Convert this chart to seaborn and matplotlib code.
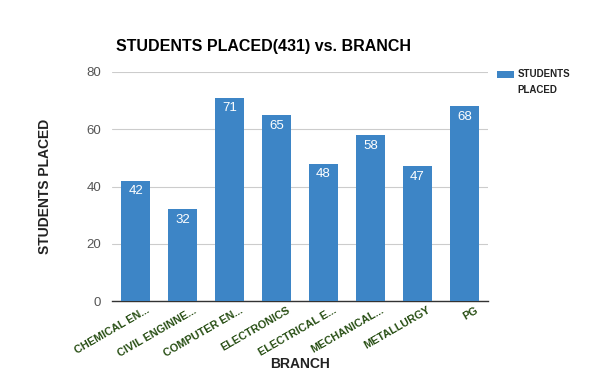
import matplotlib
matplotlib.use("Agg")
import matplotlib.pyplot as plt
import matplotlib.transforms as mtransforms
import seaborn as sns
import pandas as pd

branches = ["CHEMICAL EN...", "CIVIL ENGINNE...", "COMPUTER EN...", "ELECTRONICS",
            "ELECTRICAL E...", "MECHANICAL...", "METALLURGY", "PG"]
placed = [42, 32, 71, 65, 48, 58, 47, 68]
yticks = [0, 20, 40, 60, 80]

df = pd.DataFrame({"branch": branches, "placed": placed})

sns.set_theme(style="white")
plt.rcParams['font.family'] = ['Liberation Sans', 'DejaVu Sans']

fig = plt.figure(figsize=(6.03, 3.73), dpi=100)
ax = fig.add_axes([0.186, 0.193, 0.623, 0.614])
bar_color = "#3d85c6"
sns.barplot(data=df, x="branch", y="placed", color=bar_color, width=0.62,
            saturation=1, ax=ax, zorder=3, label="STUDENTS\nPLACED", edgecolor="none")
ax.set_ylim(0, 80)
ax.set_yticks(yticks)
ax.set_yticklabels([str(v) for v in yticks], fontsize=9.5, color="#555555")
ax.set_xlim(-0.5, len(branches) - 0.5)
ax.grid(axis="y", color="#cccccc", linewidth=0.8, zorder=0)
for s in ["top", "right", "left"]:
    ax.spines[s].set_visible(False)
ax.spines["bottom"].set_color("#333333")
ax.spines["bottom"].set_linewidth(1)
ax.tick_params(axis="y", length=0, pad=8)
ax.tick_params(axis="x", length=0, pad=3)
ax.set_xticks(range(len(branches)))
ax.set_xticklabels(branches, rotation=30, ha="right", rotation_mode="anchor",
                   fontsize=7.8, fontweight="bold", color="#274e13")
offset = mtransforms.ScaledTranslation(10 / 100, 0, fig.dpi_scale_trans)
for lab in ax.get_xticklabels():
    lab.set_transform(lab.get_transform() + offset)
for i, v in enumerate(placed):
    ax.text(i, v - 1.6, str(v), ha="center", va="top", color="white", fontsize=9.5)
ax.set_xlabel("BRANCH", fontsize=10, fontweight="bold", color="#222222", labelpad=0)
ax.xaxis.set_label_coords(0.5, -0.245)
ax.set_ylabel("STUDENTS PLACED", fontsize=10, fontweight="bold", color="#222222")
ax.yaxis.set_label_coords(-0.16, 0.5)
fig.text(0.192, 0.862, "STUDENTS PLACED(431) vs. BRANCH", fontsize=11.5, fontweight="bold",
         color="#000000", ha="left")
leg = ax.legend(loc="upper left", bbox_to_anchor=(1.01, 1.04), frameon=False,
                handlelength=1.75, handleheight=0.65, handletextpad=0.3, borderaxespad=0.2,
                prop={"weight": "bold", "size": 7})
for t in leg.get_texts():
    t.set_color("#222222")
    t.set_linespacing(1.75)
h = leg.legend_handles[0]
h.set_y(h.get_y() + 5.5)
fig.savefig("out.png", dpi=100)
